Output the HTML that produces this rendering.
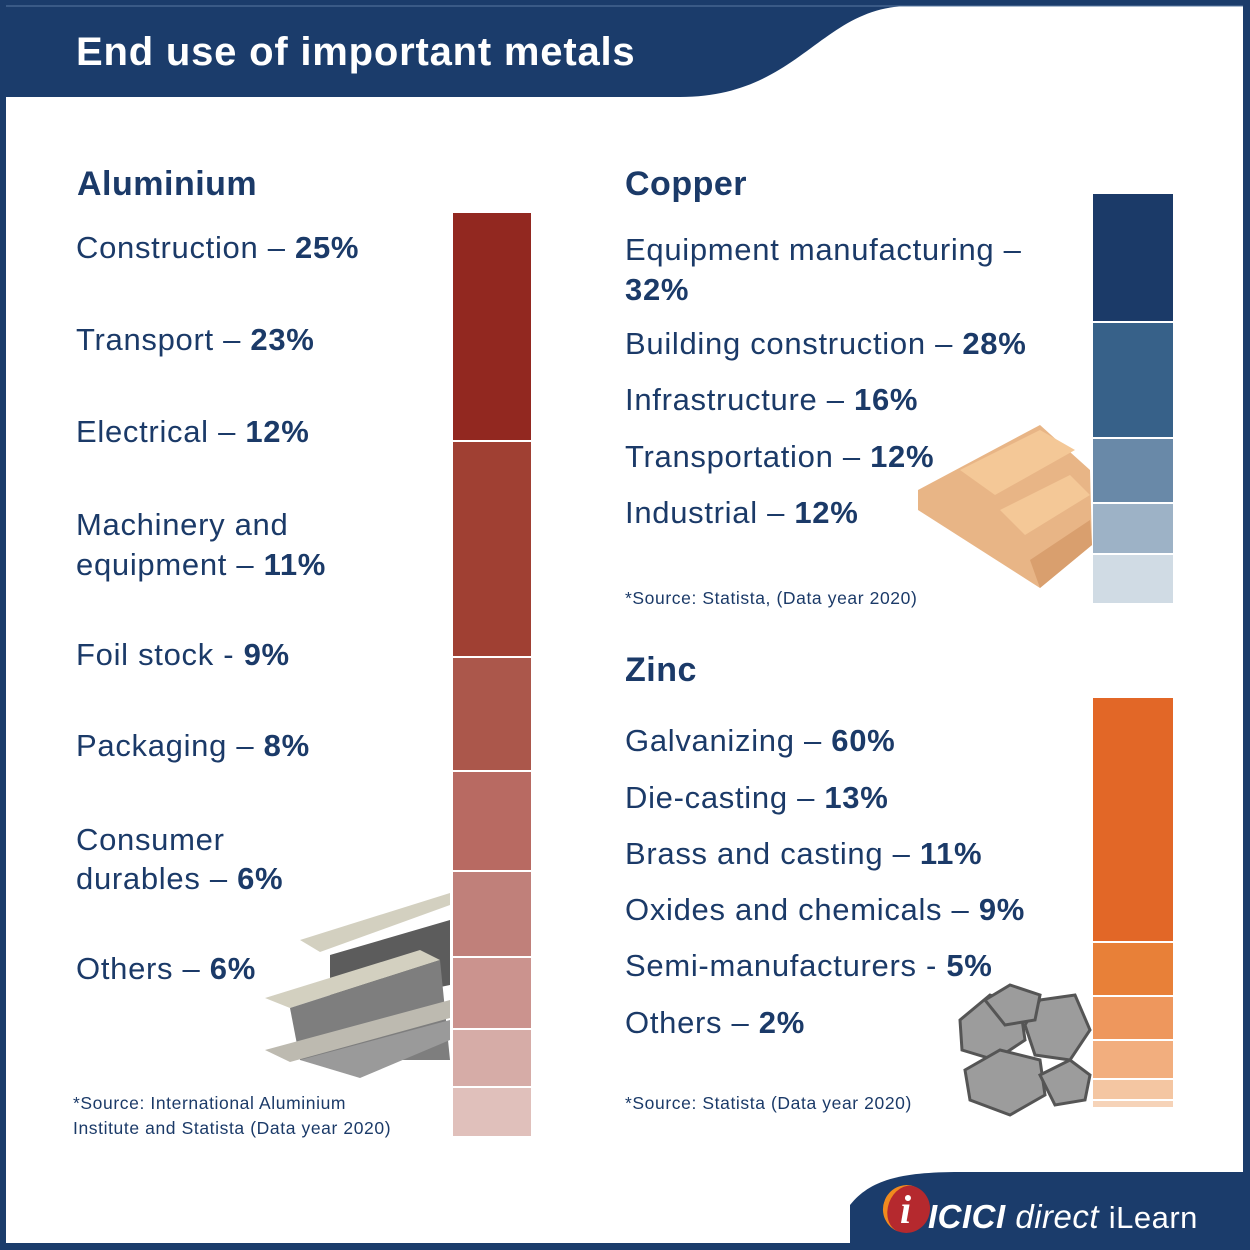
<!DOCTYPE html>
<html><head><meta charset="utf-8"><style>
*{margin:0;padding:0}
body{width:1250px;height:1250px;background:#1b3c6b;position:relative;overflow:hidden;font-family:"Liberation Sans",Arial,sans-serif;color:#1b3a68}
.t{position:absolute;font-size:31px;letter-spacing:0.7px;white-space:nowrap;line-height:36px}
.h{position:absolute;font-size:34px;font-weight:bold;letter-spacing:0.5px}
.s{position:absolute;font-size:17.5px;letter-spacing:0.6px;line-height:25px;white-space:nowrap}
b{font-weight:bold}
.bar{position:absolute}
</style></head><body>
<svg width="1250" height="1250" style="position:absolute;left:0;top:0">
<rect x="6" y="6" width="1237" height="1237" fill="#fff"/>
<path d="M6 6 H1243 V6 H910 C820 6 800 97 680 97 H6 Z" fill="#1b3c6b"/>
<path d="M6 6 H1243" stroke="#5a78a0" stroke-width="1"/>
<path d="M850 1250 V1205 C870 1180 900 1172 960 1172 H1243 V1250 Z" fill="#1b3c6b"/>
<g>
<polygon points="300,940 450,893 450,905 320,952" fill="#d3d0c0"/>
<polygon points="330,955 450,920 450,985 330,1010" fill="#5c5c5c"/>
<polygon points="265,998 420,950 440,960 290,1008" fill="#d3d0c0"/>
<polygon points="290,1008 440,960 450,1060 300,1060" fill="#7e7e7e"/>
<polygon points="265,1050 450,1000 450,1018 290,1062" fill="#bdbab0"/>
<polygon points="300,1060 450,1020 450,1040 360,1078" fill="#9a9a9a"/>
</g>
<g>
<polygon points="918,490 1040,425 1090,470 1092,545 1040,588 918,510" fill="#e8b586"/>
<polygon points="960,470 1040,430 1075,450 995,495" fill="#f4c897"/>
<polygon points="1000,510 1070,475 1090,495 1025,535" fill="#f4c897"/>
<polygon points="1030,560 1090,520 1092,545 1040,588" fill="#d99f6e"/>
</g>
<g fill="#9c9c9c" stroke="#555" stroke-width="3">
<polygon points="960,1020 990,995 1020,1005 1025,1040 995,1060 962,1050"/>
<polygon points="1040,1000 1075,995 1090,1030 1070,1060 1035,1055 1025,1025"/>
<polygon points="965,1070 1000,1050 1040,1060 1045,1095 1010,1115 970,1100"/>
<polygon points="1040,1075 1070,1060 1090,1075 1085,1100 1055,1105"/>
<polygon points="985,1000 1010,985 1040,995 1035,1020 1005,1025"/>
</g>
</svg>
<div style="position:absolute;left:76px;top:30px;font-size:40px;letter-spacing:0.8px;font-weight:bold;color:#fff;white-space:nowrap">End use of important metals</div>

<div class="h" style="left:77px;top:165px">Aluminium</div>
<div class="t" style="left:76px;top:230px">Construction – <b>25%</b></div>
<div class="t" style="left:76px;top:322px">Transport – <b>23%</b></div>
<div class="t" style="left:76px;top:414px">Electrical – <b>12%</b></div>
<div class="t" style="left:76px;top:505px;line-height:40px">Machinery and<br>equipment – <b>11%</b></div>
<div class="t" style="left:76px;top:637px">Foil stock - <b>9%</b></div>
<div class="t" style="left:76px;top:728px">Packaging – <b>8%</b></div>
<div class="t" style="left:76px;top:820px;line-height:39px">Consumer<br>durables – <b>6%</b></div>
<div class="t" style="left:76px;top:951px">Others – <b>6%</b></div>
<div class="s" style="left:73px;top:1091px">*Source: International Aluminium<br>Institute and Statista (Data year 2020)</div>

<div class="bar" style="left:453px;top:213px;width:78px;height:227px;background:#922820"></div>
<div class="bar" style="left:453px;top:442px;width:78px;height:214px;background:#a04033"></div>
<div class="bar" style="left:453px;top:658px;width:78px;height:112px;background:#ab574b"></div>
<div class="bar" style="left:453px;top:772px;width:78px;height:98px;background:#b86a62"></div>
<div class="bar" style="left:453px;top:872px;width:78px;height:84px;background:#c0807a"></div>
<div class="bar" style="left:453px;top:958px;width:78px;height:70px;background:#cb938e"></div>
<div class="bar" style="left:453px;top:1030px;width:78px;height:56px;background:#d6aca7"></div>
<div class="bar" style="left:453px;top:1088px;width:78px;height:48px;background:#e0c0bb"></div>

<div class="h" style="left:625px;top:165px">Copper</div>
<div class="t" style="left:625px;top:230px;line-height:40px">Equipment manufacturing –<br><b>32%</b></div>
<div class="t" style="left:625px;top:326px">Building construction – <b>28%</b></div>
<div class="t" style="left:625px;top:382px">Infrastructure – <b>16%</b></div>
<div class="t" style="left:625px;top:439px">Transportation – <b>12%</b></div>
<div class="t" style="left:625px;top:495px">Industrial – <b>12%</b></div>
<div class="s" style="left:625px;top:586px">*Source: Statista, (Data year 2020)</div>
<div class="bar" style="left:1093px;top:194px;width:80px;height:127px;background:#1b3a68"></div>
<div class="bar" style="left:1093px;top:323px;width:80px;height:114px;background:#376189"></div>
<div class="bar" style="left:1093px;top:439px;width:80px;height:63px;background:#6989a8"></div>
<div class="bar" style="left:1093px;top:504px;width:80px;height:49px;background:#9db2c6"></div>
<div class="bar" style="left:1093px;top:555px;width:80px;height:48px;background:#d0dbe4"></div>

<div class="h" style="left:625px;top:651px">Zinc</div>
<div class="t" style="left:625px;top:723px">Galvanizing – <b>60%</b></div>
<div class="t" style="left:625px;top:780px">Die-casting – <b>13%</b></div>
<div class="t" style="left:625px;top:836px">Brass and casting – <b>11%</b></div>
<div class="t" style="left:625px;top:892px">Oxides and chemicals – <b>9%</b></div>
<div class="t" style="left:625px;top:948px">Semi-manufacturers - <b>5%</b></div>
<div class="t" style="left:625px;top:1005px">Others – <b>2%</b></div>
<div class="s" style="left:625px;top:1091px">*Source: Statista (Data year 2020)</div>
<div class="bar" style="left:1093px;top:698px;width:80px;height:243px;background:#e26727"></div>
<div class="bar" style="left:1093px;top:943px;width:80px;height:52px;background:#e88038"></div>
<div class="bar" style="left:1093px;top:997px;width:80px;height:42px;background:#ee975d"></div>
<div class="bar" style="left:1093px;top:1041px;width:80px;height:37px;background:#f2ae7e"></div>
<div class="bar" style="left:1093px;top:1080px;width:80px;height:19px;background:#f4c6a2"></div>
<div class="bar" style="left:1093px;top:1101px;width:80px;height:6px;background:#f6d3b8"></div>

<div style="position:absolute;left:883px;top:1185px;width:42px;height:48px;border-radius:50%;background:#b5292e;border-left:5px solid #f08a1e;transform:rotate(20deg)"></div>
<div style="position:absolute;left:900px;top:1186px;color:#fff;font-size:40px;font-weight:bold;font-style:italic;font-family:'Liberation Serif',serif">i</div>
<div style="position:absolute;left:928px;top:1198px;color:#fff;font-size:33px;font-weight:bold;font-style:italic;white-space:nowrap;letter-spacing:0.5px">ICICI <span style="font-weight:normal">direct</span> <span style="font-weight:normal;font-style:normal;font-size:31px">iLearn</span></div>
</body></html>
